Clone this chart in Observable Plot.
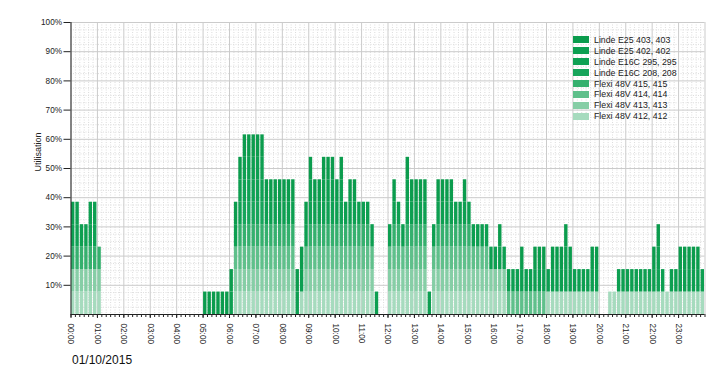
<!DOCTYPE html>
<html><head><meta charset="utf-8">
<script src="https://cdn.jsdelivr.net/npm/d3@7"></script>
<script src="https://cdn.jsdelivr.net/npm/@observablehq/plot@0.6"></script>
<style>
body{margin:0;background:#fff;font-family:"Liberation Sans",Arial,sans-serif;}
#wrap{position:relative;width:716px;height:387px;overflow:hidden;}
#legend{position:absolute;left:573.3px;top:34.5px;font-size:8.8px;color:#222;}
.row{height:10.9px;display:flex;align-items:center;white-space:nowrap;}
.sw{width:16px;height:7px;margin-right:4.7px;flex:none;}
#date{position:absolute;left:72px;top:353.5px;font-size:12px;line-height:1;color:#111;}
</style></head>
<body><div id="wrap"><div id="chart"></div><div id="legend"></div><div id="date">01/10/2015</div></div>
<script>
// Series, stacked bottom -> top
const seriesNames = ["Flexi 48V 412, 412","Flexi 48V 413, 413","Flexi 48V 414, 414","Flexi 48V 415, 415",
  "Linde E16C 208, 208","Linde E16C 295, 295","Linde E25 402, 402","Linde E25 403, 403"];
const seriesColors = ["#a6dbbe","#86cea6","#5fc08b","#35b06e","#17a55b","#0fa154","#0d9f51","#0b9c4d"];
const hourLabels = ["00:00","01:00","02:00","03:00","04:00","05:00","06:00","07:00","08:00","09:00","10:00","11:00",
  "12:00","13:00","14:00","15:00","16:00","17:00","18:00","19:00","20:00","21:00","22:00","23:00"];
const yTicks = [10,20,30,40,50,60,70,80,90,100];
const binMinutes = 10;      // each bar = 10 minutes
const truckShare = 7.69;    // % utilisation contributed by one active truck
// active flags per 10-minute bin (144 bins, 6 per hour)
const flexi412 = [1,1,1,1,1,1, 1,0,0,0,0,0, 0,0,0,0,0,0, 0,0,0,0,0,0, 0,0,0,0,0,0, 0,0,0,0,0,0,
  0,1,1,1,1,1, 1,1,1,1,1,1, 1,1,1,0,1,1, 1,1,1,1,1,1, 1,1,1,1,1,1, 1,1,1,0,0,0,
  1,1,1,1,1,1, 1,1,1,0,1,1, 1,1,1,1,1,1, 1,1,1,1,1,1, 1,1,1,0,0,0, 0,0,0,0,0,0,
  1,1,1,1,1,1, 1,1,1,1,1,1, 0,0,1,1,1,1, 1,1,1,1,1,1, 1,1,1,1,1,1, 1,1,1,1,1,1];
const flexi413 = [1,1,1,1,1,1, 1,0,0,0,0,0, 0,0,0,0,0,0, 0,0,0,0,0,0, 0,0,0,0,0,0, 0,0,0,0,0,0,
  0,1,1,1,1,1, 1,1,1,1,1,1, 1,1,1,0,0,1, 1,1,1,1,1,1, 1,1,1,1,1,1, 1,1,1,0,0,0,
  1,1,1,1,1,1, 1,1,1,0,1,1, 1,1,1,1,1,1, 1,1,1,1,1,1, 1,1,1,0,0,0, 0,0,0,0,0,0,
  0,0,0,0,0,0, 0,0,0,0,0,0, 0,0,0,0,0,0, 0,0,0,0,0,0, 0,0,0,0,0,0, 0,0,0,0,0,0];
const flexi414 = [0,0,0,0,0,0, 0,0,0,0,0,0, 0,0,0,0,0,0, 0,0,0,0,0,0, 0,0,0,0,0,0, 0,0,0,0,0,0,
  0,1,1,1,1,1, 1,1,1,1,1,1, 1,1,1,0,0,1, 1,1,1,1,1,1, 1,1,1,1,1,1, 1,1,1,0,0,0,
  1,1,1,1,1,1, 1,1,1,0,1,1, 1,1,1,1,1,1, 1,1,1,1,1,0, 0,0,0,1,1,1, 1,1,1,1,1,1,
  0,0,0,0,0,0, 0,0,0,0,0,0, 0,0,0,0,0,0, 0,0,0,0,0,0, 0,0,0,0,0,0, 0,0,0,0,0,0];
const flexi415 = [1,1,1,1,1,1, 1,0,0,0,0,0, 0,0,0,0,0,0, 0,0,0,0,0,0, 0,0,0,0,0,0, 0,0,0,0,0,0,
  0,0,1,1,1,1, 1,1,1,1,1,1, 1,1,1,0,0,0, 1,1,1,1,1,1, 1,1,1,1,1,1, 1,1,0,0,0,0,
  0,1,1,0,1,1, 1,1,1,0,0,1, 1,1,1,1,1,1, 1,0,0,0,0,0, 0,0,0,0,0,0, 0,0,0,0,0,0,
  0,0,0,0,0,0, 0,0,0,0,0,0, 0,0,0,0,0,0, 0,0,0,0,0,0, 0,0,0,0,0,0, 0,0,0,0,0,0];
const linde208 = [0,0,0,0,0,0, 0,0,0,0,0,0, 0,0,0,0,0,0, 0,0,0,0,0,0, 0,0,0,0,0,0, 0,0,0,0,0,0,
  0,0,0,1,1,1, 1,1,0,0,0,0, 0,0,0,0,0,0, 0,0,0,0,0,0, 0,0,0,0,0,0, 0,0,0,0,0,0,
  0,0,0,0,0,0, 0,0,0,0,0,0, 0,0,0,0,0,0, 0,0,0,0,0,0, 0,0,0,0,0,0, 0,0,0,0,0,0,
  0,0,0,0,0,0, 0,0,0,0,0,0, 0,0,0,0,0,0, 0,0,0,0,0,0, 0,0,0,0,0,0, 0,0,0,0,0,0];
const linde295 = [1,1,0,0,1,1, 0,0,0,0,0,0, 0,0,0,0,0,0, 0,0,0,0,0,0, 0,0,0,0,0,0, 0,0,0,0,0,0,
  0,0,1,1,1,1, 1,1,0,0,0,0, 0,0,0,0,0,0, 1,0,0,1,1,1, 0,1,0,0,0,0, 0,0,0,0,0,0,
  0,0,0,0,1,0, 0,0,0,0,0,0, 0,0,0,0,0,0, 0,0,0,0,0,0, 0,0,0,0,0,0, 0,0,0,0,0,0,
  0,0,0,0,1,0, 0,0,0,0,0,0, 0,0,0,0,0,0, 0,0,0,0,0,0, 0,1,0,0,0,0, 0,0,0,0,0,0];
const linde402 = [1,1,1,1,1,1, 0,0,0,0,0,0, 0,0,0,0,0,0, 0,0,0,0,0,0, 0,0,0,0,0,0, 0,0,0,0,0,0,
  1,1,1,1,1,1, 1,1,1,1,1,1, 1,1,1,1,1,1, 1,1,1,1,1,1, 1,1,1,1,1,1, 1,1,1,1,0,0,
  1,1,1,1,1,1, 1,1,1,1,1,1, 1,1,1,1,1,1, 1,1,1,1,1,1, 1,1,1,1,1,1, 1,1,1,1,1,1,
  1,1,1,1,1,1, 1,1,1,1,1,1, 0,0,0,0,1,1, 1,1,1,1,1,1, 1,1,1,0,1,1, 1,1,1,1,1,1];
const linde403 = [0,0,0,0,0,0, 0,0,0,0,0,0, 0,0,0,0,0,0, 0,0,0,0,0,0, 0,0,0,0,0,0, 1,1,1,1,1,1,
  1,1,1,1,1,1, 1,1,1,1,1,1, 1,1,1,1,1,1, 1,1,1,1,1,1, 1,1,0,1,1,0, 0,0,0,0,0,0,
  0,1,0,0,1,1, 1,1,1,0,0,1, 1,1,1,0,0,1, 0,0,0,0,0,0, 0,1,0,0,0,0, 1,0,0,1,1,1,
  0,1,1,1,1,1, 0,0,0,0,1,1, 0,0,0,0,0,0, 0,0,0,0,0,0, 1,1,0,0,0,0, 1,1,1,1,1,0];
const seriesActive = [flexi412, flexi413, flexi414, flexi415, linde208, linde295, linde402, linde403];

// build stacked rectangles table
const rows = [];
for (let b = 0; b < flexi412.length; b++) {
  let cum = 0;
  seriesActive.forEach((arr, s) => {
    if (arr[b]) {
      rows.push({series: seriesNames[s], t1: b * binMinutes, t2: (b + 1) * binMinutes, v1: cum, v2: cum + truckShare});
      cum += truckShare;
    }
  });
}

const minuteTicks = d3.range(0, 1441, binMinutes);
const hourTicks = d3.range(0, 1440, 60);

const chart = Plot.plot({
  width: 716, height: 350,
  marginLeft: 70.5, marginRight: 11.5, marginTop: 22, marginBottom: 36,
  x: {domain: [0, 1440]},
  y: {domain: [0, 100]},
  color: {domain: seriesNames, range: seriesColors},
  style: {fontFamily: "Liberation Sans, Arial, sans-serif", fontSize: "8.2px", color: "#222", background: "#fff"},
  marks: [
    Plot.ruleX(minuteTicks.filter(m => m % 60), {stroke: "#dcdcdc", strokeDasharray: "1,1.5"}),
    Plot.ruleY(d3.range(0, 101, 2.5).filter(v => v % 10), {stroke: "#dedede", strokeDasharray: "1,1.5"}),
    Plot.ruleX(d3.range(0, 1441, 60), {stroke: "#cbcbcb"}),
    Plot.ruleY(yTicks, {stroke: "#cbcbcb"}),
    Plot.rect(rows, {x1: "t1", x2: "t2", y1: "v1", y2: "v2", fill: "series", insetLeft: 0.5, insetRight: 0.5}),
    Plot.axisY({ticks: yTicks, tickFormat: d => d + "%", tickSize: 7, tickPadding: 2, label: null}),
    Plot.axisX({ticks: minuteTicks, tickFormat: () => "", tickSize: 3, label: null}),
    Plot.axisX({ticks: hourTicks, tickFormat: d => hourLabels[d / 60], tickSize: 4, tickPadding: 5,
      tickRotate: 90, textAnchor: "start", lineAnchor: "middle", label: null}),
    Plot.ruleX([0], {stroke: "#222"}),
    Plot.ruleY([0], {stroke: "#222"}),
    Plot.text(["Utilisation"], {frameAnchor: "left", dx: -33, dy: 3, rotate: -90, text: d => d, fontSize: 9, fill: "#222"})
  ]
});
document.getElementById("chart").appendChild(chart);

const legend = document.getElementById("legend");
for (let s = seriesNames.length - 1; s >= 0; s--) {
  const r = document.createElement("div");
  r.className = "row";
  r.innerHTML = `<span class="sw" style="background:${seriesColors[s]}"></span><span>${seriesNames[s]}</span>`;
  legend.appendChild(r);
}
</script>
</body></html>
